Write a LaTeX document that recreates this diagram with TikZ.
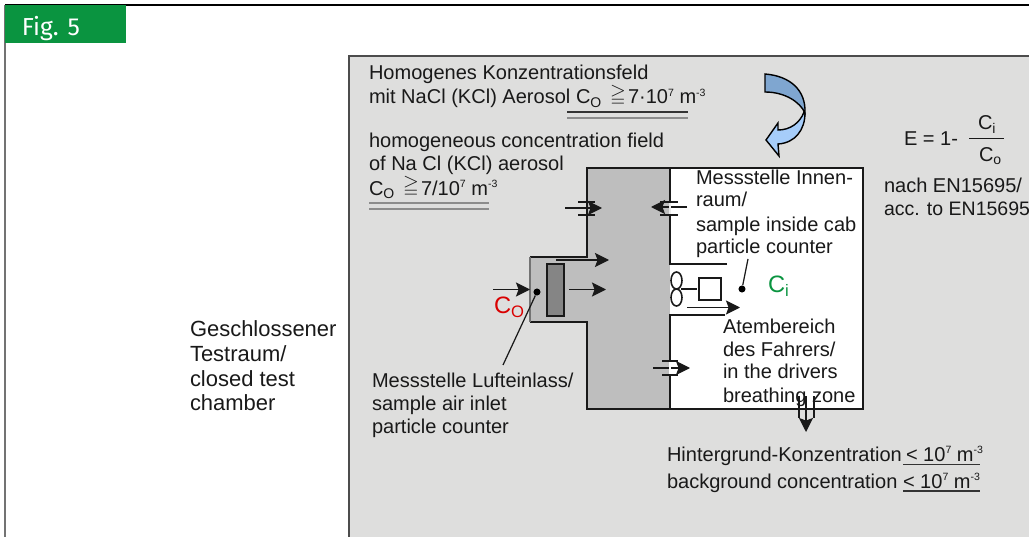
\documentclass[tikz,border=0pt]{standalone}
\usepackage{amssymb}
\usepackage{fontspec}
\setmainfont{Liberation Sans}
\newfontfamily\tabfont{Fira Sans}
\usetikzlibrary{arrows.meta}
\definecolor{panelgray}{HTML}{DEDEDD}
\definecolor{ductgray}{HTML}{BEBEBE}
\definecolor{filtergray}{HTML}{858585}
\definecolor{tabgreen}{HTML}{0A9440}
\definecolor{curvedark}{HTML}{7FA6D0}
\definecolor{curvelight}{HTML}{A6CDFA}
\tikzset{
  lbl/.style={inner sep=0pt,outer sep=0pt,anchor=base west,align=left,text=black!90,
    font=\fontsize{11.4}{13.5}\selectfont},
  roomlbl/.style={lbl,font=\fontsize{12.5}{14}\selectfont},
  wall/.style={line width=1.2pt,black!90},
  flow/.style={line width=0.75pt,black!90,-{Stealth[length=8pt,width=8pt,inset=1.5pt]}},
  bar/.style={line width=0.9pt,black!90},
  rule/.style={line width=0.7pt,black!80},
  ruleb/.style={line width=0.9pt,black!45},
  dot/.style={circle,fill=black,inner sep=0pt,minimum size=4pt}
}
\newcommand{\geqsign}{\fontsize{11.5}{12}\selectfont$\geqq$}
\newcommand{\expo}[1]{\raisebox{4.5pt}{\fontsize{6}{6}\selectfont #1}}
\begin{document}
\begin{tikzpicture}[x=0.02cm,y=-0.02cm]
  \useasboundingbox (0,0) rectangle (1029,537);
  % frame and panel
  \coordinate (F1) at (5,537); \coordinate (F2) at (5,5); \coordinate (F3) at (1029,5);
  \draw[line width=1pt,black!55] (F1)--(F2);
  \draw[line width=0.8pt,black] (F2)--(F3);
  \fill[tabgreen] (5,5) rectangle (126,43);
  \node[lbl,text=white,font=\tabfont\fontsize{14}{16}\selectfont] (figlabel) at (22,36) {Fig. 5};
  \fill[panelgray] (349,56) rectangle (1029,537);
  \draw[line width=1pt,black!70] (349,537)--(349,56)--(1029,56);
  % cab and duct
  \fill[white] (670,168) rectangle (863,409);
  \fill[ductgray] (587,168)--(670,168)--(670,409)--(587,409)--(587,322)--(530,322)--(530,257)--(587,257)--cycle;
  \fill[white] (670,264) rectangle (680,315);
  \draw[wall] (727,264)--(670,264)--(670,168)--(587,168)--(587,257)--(530,257);
  \draw[wall] (530,322)--(587,322)--(587,409)--(863,409)--(863,168)--(670,168);
  \draw[wall] (725,315)--(670,315)--(670,409);
  \draw[line width=1pt,black!55] (530,257)--(530,322);
  \draw[line width=0.9pt,black!90,fill=filtergray] (547,264) rectangle (564,316);
  % fan and sampling head
  \foreach \fy in {280.5,297.5}{\draw[line width=0.9pt,black!90] (676.5,\fy) ellipse (5.5 and 8.5);}
  \draw[line width=1.4pt,black!90] (681,289)--(697,289);
  \draw[line width=0.9pt,black!90] (699,278) rectangle (721,300);
  \node[dot] (inside) at (742,289) {};
  \node[dot] (inlet) at (537,292) {};
  \coordinate (insidetop) at (748,259);
  \coordinate (inletfoot) at (503,365);
  \draw[line width=0.7pt,black!90] (insidetop)--(inside);
  \draw[line width=0.7pt,black!90] (inletfoot)--(inlet);
  % flows
  \foreach \sx/\sy/\ex in {493/289.5/530,556/260/609,569/289.5/606,687/307.5/740,565/208/602,687/207/651,653/368/690}{
    \draw[flow] (\sx,\sy)--(\ex,\sy);
  }
  \draw[flow] (806,396)--(806,432);
  % leaks
  \fill[panelgray!60!white] (669,203) rectangle (671,214);
  \fill[white] (669,362) rectangle (671,374);
  \foreach \bx/\by/\cx in {578/202/595,578/215/595,660/202/678,660/215/678,662/361/678,662/375/678}{
    \draw[bar] (\bx,\by)--(\cx,\by);
  }
  \foreach \bx in {799,814}{\draw[bar] (\bx,396)--(\bx,418);}
  % curved arrow
  \draw[line width=0.8pt,black,fill=curvelight] (805,113) .. controls (805,130) and (795,143) .. (778,144)
    -- (779,156) -- (766,140) -- (778,123) -- (778,130) .. controls (790,130) and (800,123) .. (804,112) -- cycle;
  \draw[line width=0.8pt,black,fill=curvedark] (765,74) .. controls (790,76) and (806,90) .. (805,113)
    .. controls (800,102) and (785,92) .. (765,92) -- cycle;
  % texts
  \node[lbl] (fieldde) at (369,80) {Homogenes Konzentrationsfeld};
  \node[lbl] (fieldde2) at (369,104) {mit NaCl (KCl) Aerosol};
  \node[lbl] (cotop) at (576,104) {C\textsubscript{O}};
  \node[lbl] (geqtop) at (610,101) {\geqsign};
  \node[lbl] (valtop) at (628,104) {7·10\expo{7} m\expo{-3}};
  \draw[rule] (567,112)--(688,112);
  \draw[ruleb] (567,118)--(688,118);
  \node[lbl] (fielden) at (369,148) {homogeneous concentration field};
  \node[lbl] (fielden2) at (369,171) {of Na Cl (KCl) aerosol};
  \node[lbl] (colow) at (369,195) {C\textsubscript{O}};
  \node[lbl] (geqlow) at (403,192) {\geqsign};
  \node[lbl] (vallow) at (421,195) {7/10\expo{7} m\expo{-3}};
  \draw[ruleb] (369,203)--(489,203);
  \draw[ruleb] (369,209)--(489,209);
  \node[lbl] (eff) at (904,146) {E = 1-};
  \node[lbl] (ci) at (978,130) {C\textsubscript{i}};
  \node[lbl] (co) at (979,162) {C\textsubscript{o}};
  \draw[line width=0.6pt,black!90] (969,138.5)--(1004,138.5);
  \node[lbl] (norm) at (884,193) {nach EN15695/};
  \node[lbl,font=\fontsize{11.1}{13.5}\selectfont] (norm2) at (884,215) {acc. to EN15695};
  \node[lbl] (cab1) at (696,185) {Messstelle Innen-};
  \node[lbl] (cab2) at (696,207) {raum/};
  \node[lbl] (cab3) at (696,232) {sample inside cab};
  \node[lbl] (cab4) at (696,254) {particle counter};
  \node[lbl] (zone1) at (723,334) {Atembereich};
  \node[lbl] (zone2) at (723,357) {des Fahrers/};
  \node[lbl] (zone3) at (723,378) {in the drivers};
  \node[lbl] (zone4) at (723,402) {breathing zone};
  \node[roomlbl] (room1) at (190,337) {Geschlossener};
  \node[roomlbl] (room2) at (190,361) {Testraum/};
  \node[roomlbl] (room3) at (190,386) {closed test};
  \node[roomlbl] (room4) at (190,410) {chamber};
  \node[lbl] (air1) at (372,387) {Messstelle Lufteinlass/};
  \node[lbl] (air2) at (372,410) {sample air inlet};
  \node[lbl] (air3) at (372,433) {particle counter};
  \node[lbl] (bg1) at (667,461) {Hintergrund-Konzentration};
  \node[lbl] (bgv1) at (906,461) {< 10\expo{7} m\expo{-3}};
  \draw[rule] (903,464.5)--(980,464.5);
  \node[lbl] (bg2) at (667,488) {background concentration};
  \node[lbl] (bgv2) at (903,488) {< 10\expo{7} m\expo{-3}};
  \draw[rule] (903,491)--(980,491);
  \node[lbl,text=red!85!black,font=\fontsize{13.5}{16}\selectfont] (coin) at (494,314) {C\textsubscript{O}};
  \node[lbl,text=tabgreen,font=\fontsize{13.5}{16}\selectfont] (ciin) at (768,293) {C\textsubscript{i}};
\end{tikzpicture}
\end{document}
